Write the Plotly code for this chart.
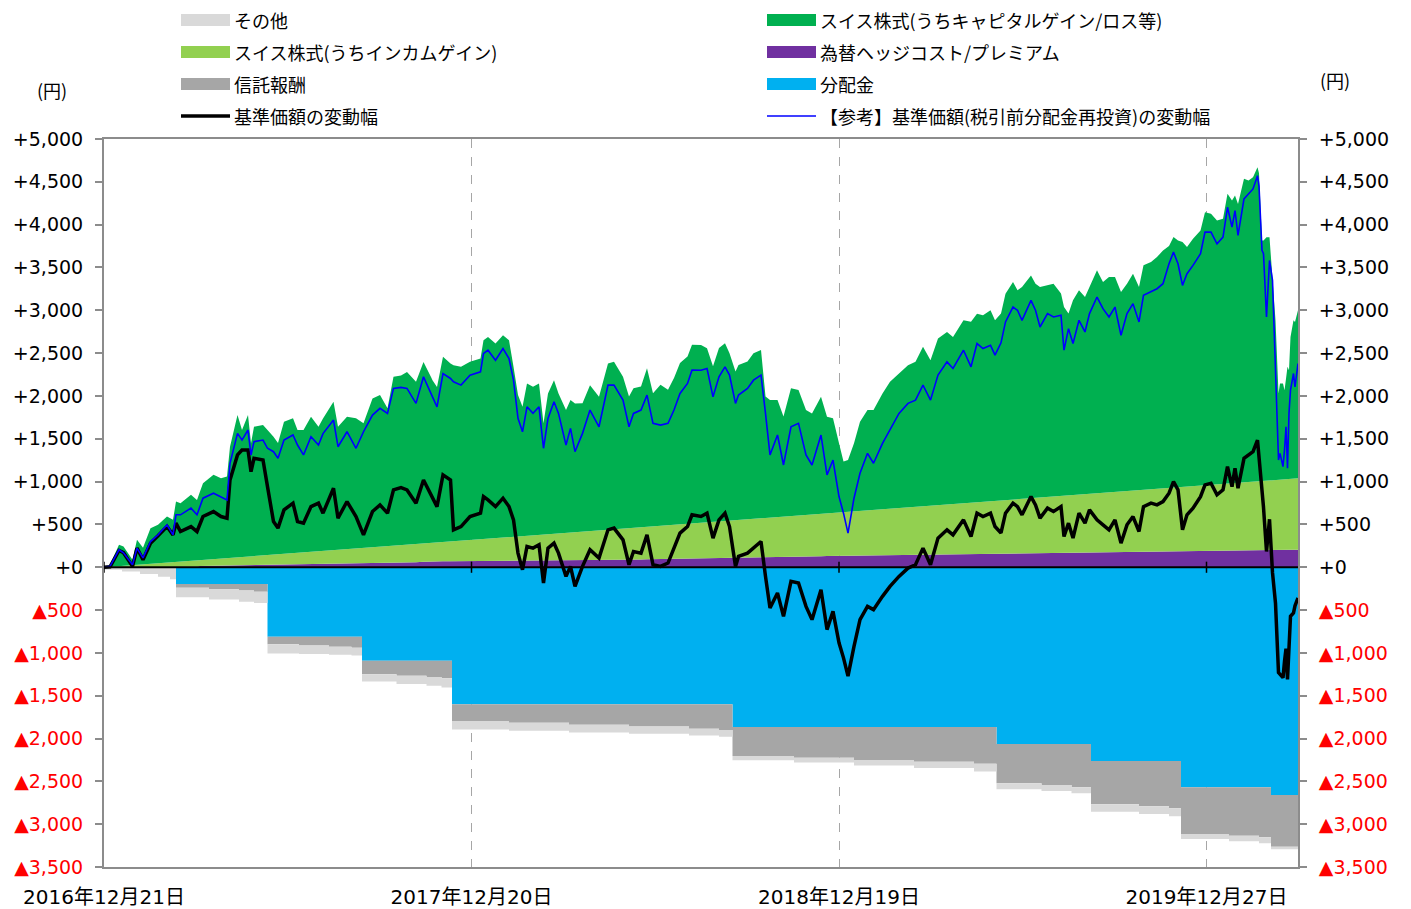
import plotly.graph_objects as go

# ---------------- tick labels ----------------
x_tick_days = [0, 245, 490, 735]
x_tick_labels = ["2016年12月21日", "2017年12月20日", "2018年12月19日", "2019年12月27日"]
y_tick_values = [5000, 4500, 4000, 3500, 3000, 2500, 2000, 1500, 1000, 500, 0,
                 -500, -1000, -1500, -2000, -2500, -3000, -3500]
y_tick_labels = ["+5,000", "+4,500", "+4,000", "+3,500", "+3,000", "+2,500", "+2,000",
                 "+1,500", "+1,000", "+500", "+0",
                 "<span style='color:#FF0000'>▲500</span>",
                 "<span style='color:#FF0000'>▲1,000</span>",
                 "<span style='color:#FF0000'>▲1,500</span>",
                 "<span style='color:#FF0000'>▲2,000</span>",
                 "<span style='color:#FF0000'>▲2,500</span>",
                 "<span style='color:#FF0000'>▲3,000</span>",
                 "<span style='color:#FF0000'>▲3,500</span>"]

# ---------------- daily series (trading-day index) ----------------
day = [0, 4, 10, 13, 19, 22, 26, 31, 36, 42,
       46, 48, 51, 58, 62, 66, 73, 78, 82, 84,
       89, 92, 96, 98, 100, 106, 109, 113, 116, 120,
       126, 129, 133, 138, 143, 146, 153, 156, 162, 168,
       173, 179, 184, 189, 193, 198, 202, 208, 213, 219,
       222, 226, 231, 233, 238, 244, 251, 253, 256, 261,
       266, 270, 273, 276, 279, 282, 286, 290, 293, 296,
       300, 303, 308, 311, 314, 319, 324, 330, 336, 340,
       346, 350, 353, 358, 362, 366, 371, 376, 380, 384,
       389, 392, 398, 402, 406, 410, 414, 417, 421, 423,
       429, 433, 438, 441, 444, 449, 453, 458, 463, 468,
       472, 478, 482, 486, 490, 493, 496, 500, 504, 509,
       513, 519, 524, 530, 536, 541, 546, 551, 556, 562,
       566, 573, 578, 582, 586, 591, 594, 598, 601, 606,
       609, 612, 618, 621, 624, 629, 633, 638, 640, 643,
       646, 650, 654, 657, 662, 666, 670, 674, 678, 682,
       686, 690, 693, 698, 702, 706, 710, 713, 716, 719,
       722, 726, 731, 734, 738, 742, 746, 749, 752, 754,
       756, 760, 763, 766, 769,
       770, 772, 773, 775, 777, 779, 781, 783, 784, 786,
       787, 788, 789, 790, 791, 793, 794, 796]

capital_gain = [0, 25, 250, 226, 63, 291, 194, 416, 449, 537,
                494, 705, 682, 770, 705, 895, 983, 938, 951, 1297,
                1661, 1482, 1653, 1320, 1510, 1522, 1460, 1377, 1299, 1543,
                1574, 1434, 1429, 1578, 1454, 1547, 1733, 1436, 1546, 1520,
                1455, 1738, 1770, 1609, 1972, 1982, 2017, 1894, 2120, 1899,
                1816, 2162, 2078, 2055, 2030, 2080, 2110, 2320, 2355, 2272,
                2363, 2299, 1984, 1651, 1509, 1778, 1733, 1768, 1298, 1643,
                1793, 1634, 1434, 1546, 1503, 1497, 1703, 1560, 1941, 1955,
                1772, 1534, 1628, 1640, 1849, 1551, 1642, 1578, 1709, 1878,
                1949, 2080, 2071, 2028, 1811, 2019, 2072, 1950, 1732, 1807,
                1839, 1930, 1963, 1415, 1372, 1365, 1166, 1491, 1464, 1225,
                1180, 1367, 1128, 1104, 808, 590, 605, 795, 1041, 1171,
                1166, 1352, 1481, 1571, 1660, 1692, 1861, 1698, 1945, 2014,
                1950, 2136, 2111, 2201, 2177, 2229, 2108, 2181, 2410, 2539,
                2439, 2472, 2601, 2500, 2457, 2471, 2484, 2362, 2204, 2122,
                2273, 2386, 2302, 2413, 2602, 2460, 2515, 2508, 2329, 2420,
                2532, 2371, 2620, 2653, 2705, 2778, 2824, 2924, 2881, 2858,
                2796, 2888, 2978, 3187, 3164, 3080, 3095, 3382, 3300, 3355,
                3255, 3543, 3519, 3553, 3667,
                3596, 2808, 2807, 2843, 2840, 2284, 1864, 1008, 1123, 1121,
                1041, 1172, 1311, 1270, 1657, 1849, 1828, 1962]

nav_change = [0, 5, 196, 170, 10, 223, 87, 281, 367, 475,
              378, 515, 417, 475, 417, 592, 650, 592, 573, 1019,
              1311, 1369, 1369, 1116, 1272, 1252, 941, 534, 457, 670,
              748, 534, 515, 708, 748, 631, 922, 573, 767, 592,
              378, 650, 728, 631, 903, 930, 903, 748, 1019, 825,
              708, 1078, 1019, 437, 475, 592, 631, 825, 786, 708,
              806, 708, 553, 165, -29, 242, 223, 262, -184, 223,
              281, 165, -107, 10, -224, 10, 204, 107, 437, 457,
              320, 29, 184, 165, 378, 29, 10, 49, 223, 398,
              475, 612, 592, 631, 340, 553, 631, 475, 10, 126,
              165, 223, 300, -107, -475, -300, -573, -165, -184, -457,
              -612, -262, -728, -515, -883, -1058, -1272, -923, -612, -457,
              -495, -340, -224, -107, -10, 29, 223, 29, 340, 437,
              378, 553, 359, 631, 592, 631, 475, 400, 631, 748,
              708, 612, 825, 728, 573, 690, 650, 708, 359, 515,
              340, 631, 515, 670, 553, 495, 437, 553, 281, 495,
              592, 417, 708, 748, 728, 767, 864, 1000, 903, 437,
              612, 690, 825, 961, 981, 845, 903, 1174, 941, 1155,
              922, 1272, 1311, 1349, 1485,
              1300, 850, 700, 184, 560, -64, -420, -1230, -1250, -1290,
              -1100, -950, -1311, -845, -573, -534, -450, -359]

nav_change_reinvested = [0, 10, 204, 168, 29, 223, 110, 300, 378, 495,
                         378, 612, 612, 690, 612, 806, 864, 825, 786, 1214,
                         1563, 1485, 1602, 1311, 1466, 1485, 1389, 1349, 1272, 1485,
                         1544, 1427, 1311, 1524, 1427, 1560, 1718, 1407, 1582, 1389,
                         1582, 1777, 1855, 1796, 2088, 2100, 2088, 1913, 2223, 1990,
                         1873, 2262, 2204, 2165, 2126, 2243, 2281, 2495, 2534, 2417,
                         2553, 2437, 2184, 1738, 1582, 1873, 1796, 1873, 1389, 1738,
                         1932, 1796, 1427, 1621, 1349, 1563, 1835, 1640, 2126, 2126,
                         1951, 1640, 1796, 1835, 2010, 1680, 1660, 1680, 1835, 2029,
                         2146, 2301, 2300, 2321, 1990, 2223, 2340, 2243, 1913, 2010,
                         2088, 2184, 2243, 1796, 1311, 1544, 1194, 1640, 1680, 1311,
                         1194, 1544, 1078, 1252, 825, 631, 398, 806, 1097, 1330,
                         1214, 1447, 1602, 1796, 1913, 1951, 2126, 1951, 2243, 2398,
                         2321, 2534, 2340, 2612, 2553, 2592, 2476, 2620, 2864, 3038,
                         3000, 2883, 3116, 3000, 2805, 2961, 2922, 2942, 2534, 2786,
                         2612, 2883, 2747, 2961, 3155, 3019, 2922, 3038, 2709, 2961,
                         3077, 2864, 3174, 3213, 3252, 3310, 3543, 3679, 3543, 3291,
                         3427, 3524, 3660, 3913, 3913, 3777, 3854, 4203, 3971, 4165,
                         3874, 4301, 4359, 4417, 4572,
                         4450, 3699, 3660, 2922, 3582, 3349, 2301, 1252, 1330, 1174,
                         1369, 1640, 1155, 1800, 2068, 2262, 2106, 2379]

# income gain and hedge cost (slowly accumulating)
ih_day = [0, 61, 64, 131, 198, 218, 331, 398, 464, 571, 664, 751, 796]
hedge_cost = [0, 0, 15, 35, 50, 68, 80, 107, 126, 150, 165, 190, 205]
income_gain = [0, 79, 69, 136, 208, 216, 352, 418, 480, 595, 702, 790, 833]

# negative components (step functions between distribution dates)
neg_day = [0, 12, 24, 36, 44,
           48, 70, 90, 100,
           109, 130, 150, 165,
           172, 195, 215, 225,
           232, 270, 310, 350, 390, 410,
           419, 460, 500, 540, 580,
           595, 625, 645,
           658, 690, 710,
           718, 750, 770,
           778, 796]
distribution = [0, 0, 0, 0, 0,
                -197, -197, -197, -197,
                -813, -813, -813, -813,
                -1093, -1093, -1093, -1093,
                -1600, -1600, -1600, -1600, -1600, -1600,
                -1865, -1865, -1865, -1865, -1865,
                -2063, -2063, -2063,
                -2262, -2262, -2262,
                -2569, -2569, -2569,
                -2660, -2660]
trust_fee = [0, 0, 0, 0, 0,
             -42, -60, -75, -88,
             -85, -100, -115, -128,
             -156, -175, -190, -203,
             -195, -215, -240, -260, -285, -300,
             -339, -360, -385, -405, -430,
             -459, -480, -506,
             -505, -530, -551,
             -547, -565, -583,
             -604, -610]
other = [-30, -50, -80, -110, -140,
         -110, -120, -130, -134,
         -110, -100, -95, -90,
         -85, -95, -100, -108,
         -100, -95, -90, -85, -80, -80,
         -50, -55, -65, -75, -90,
         -70, -70, -70,
         -87, -90, -93,
         -58, -65, -70,
         -30, -30]

legend_names = ["その他", "スイス株式(うちキャピタルゲイン/ロス等)",
                "スイス株式(うちインカムゲイン)", "為替ヘッジコスト/プレミアム",
                "信託報酬", "分配金",
                "基準価額の変動幅", "【参考】基準価額(税引前分配金再投資)の変動幅"]
legend_colors = ["#D9D9D9", "#00B050", "#92D050", "#7030A0",
                 "#A6A6A6", "#00B0F0", "#000000", "#0000FF"]
legend_kind = ["box", "box", "box", "box", "box", "box", "thick", "thin"]

C_OTHER, C_CAP, C_INC, C_HEDGE, C_FEE, C_DIST, C_NAV, C_REF = legend_colors

fig = go.Figure()

# negative stack
fig.add_trace(go.Scatter(x=neg_day, y=distribution, stackgroup="neg", mode="lines",
                         line=dict(width=0, shape="hv"), fillcolor=C_DIST, name="分配金",
                         showlegend=False, hoverinfo="skip"))
fig.add_trace(go.Scatter(x=neg_day, y=trust_fee, stackgroup="neg", mode="lines",
                         line=dict(width=0, shape="hv"), fillcolor=C_FEE, name="信託報酬",
                         showlegend=False, hoverinfo="skip"))
fig.add_trace(go.Scatter(x=neg_day, y=other, stackgroup="neg", mode="lines",
                         line=dict(width=0, shape="hv"), fillcolor=C_OTHER, name="その他",
                         showlegend=False, hoverinfo="skip"))

# positive stack
fig.add_trace(go.Scatter(x=ih_day, y=hedge_cost, stackgroup="pos", stackgaps="interpolate",
                         mode="lines", line=dict(width=0), fillcolor=C_HEDGE,
                         name="為替ヘッジコスト/プレミアム", showlegend=False, hoverinfo="skip"))
fig.add_trace(go.Scatter(x=ih_day, y=income_gain, stackgroup="pos", mode="lines",
                         line=dict(width=0), fillcolor=C_INC,
                         name="スイス株式(うちインカムゲイン)", showlegend=False, hoverinfo="skip"))
fig.add_trace(go.Scatter(x=day, y=capital_gain, stackgroup="pos", mode="lines",
                         line=dict(width=0), fillcolor=C_CAP,
                         name="スイス株式(うちキャピタルゲイン/ロス等)", showlegend=False,
                         hoverinfo="skip"))

# lines
fig.add_trace(go.Scatter(x=day, y=nav_change, mode="lines",
                         line=dict(color=C_NAV, width=3.5), name="基準価額の変動幅",
                         showlegend=False))
# reference line is plotted against the (identical) right-hand axis
fig.add_trace(go.Scatter(x=day, y=nav_change_reinvested, mode="lines", yaxis="y2",
                         line=dict(color=C_REF, width=1.6),
                         name="【参考】基準価額(税引前分配金再投資)の変動幅", showlegend=False))

# ---------------- layout ----------------
# page body has an 8px margin; the plot area should sit at page x 104..1298, y 139..867
W, H = 1411, 909
BODY = 8
PLOT_L, PLOT_R, PLOT_T, PLOT_B = 104, 1298, 139, 867
ML = PLOT_L - BODY
MT = PLOT_T - BODY
MR = W - (PLOT_R - BODY)
MB = H - (PLOT_B - BODY)
PW, PH = PLOT_R - PLOT_L, PLOT_B - PLOT_T


def px_x(px):
    return (px - PLOT_L) / PW


def px_y(py):
    return (PLOT_B - py) / PH


num_font = "DejaVu Sans, Noto Sans CJK JP, sans-serif"
jp_font = "Noto Sans CJK JP, sans-serif"
axis_gray = "#8C8C8C"

shapes = []
annotations = []

# zero line and small ticks on it
shapes.append(dict(type="line", xref="paper", yref="y", x0=0, x1=1, y0=0, y1=0,
                   line=dict(color="#000000", width=2), layer="above"))
for tv in x_tick_days:
    shapes.append(dict(type="line", xref="x", yref="y", x0=tv, x1=tv, y0=-65, y1=65,
                       line=dict(color="#000000", width=1.5), layer="above"))

# manual two-column legend
col_sym_x = [181, 767]
col_txt_x = [232, 818]
row_y = [20, 52, 84, 116]
for i in range(len(legend_names)):
    col = i % 2
    row = i // 2
    cy = row_y[row]
    x0, x1 = col_sym_x[col], col_sym_x[col] + 49
    kind = legend_kind[i]
    if kind == "box":
        shapes.append(dict(type="rect", xref="paper", yref="paper",
                           x0=px_x(x0), x1=px_x(x1), y0=px_y(cy + 6), y1=px_y(cy - 6),
                           line=dict(width=0), fillcolor=legend_colors[i]))
    else:
        shapes.append(dict(type="line", xref="paper", yref="paper",
                           x0=px_x(x0), x1=px_x(x1), y0=px_y(cy), y1=px_y(cy),
                           line=dict(color=legend_colors[i],
                                     width=3.5 if kind == "thick" else 1.5)))
    annotations.append(dict(text=legend_names[i], xref="paper", yref="paper",
                            x=px_x(col_txt_x[col]), y=px_y(cy), xanchor="left",
                            yanchor="middle", showarrow=False,
                            font=dict(family=jp_font, size=18, color="#000000")))

annotations.append(dict(text="(円)", xref="paper", yref="paper", x=px_x(52), y=px_y(90),
                        xanchor="center", yanchor="middle", showarrow=False,
                        font=dict(family=jp_font, size=18, color="#000000")))
annotations.append(dict(text="(円)", xref="paper", yref="paper", x=px_x(1335), y=px_y(80),
                        xanchor="center", yanchor="middle", showarrow=False,
                        font=dict(family=jp_font, size=18, color="#000000")))

fig.update_layout(
    width=W, height=H,
    margin=dict(l=ML, r=MR, t=MT, b=MB, pad=0, autoexpand=False),
    paper_bgcolor="#FFFFFF", plot_bgcolor="#FFFFFF",
    showlegend=False,
    shapes=shapes, annotations=annotations,
    xaxis=dict(range=[0, 796], tickmode="array", tickvals=x_tick_days, ticktext=x_tick_labels,
               showgrid=True, gridcolor="#A6A6A6", griddash="dash", gridwidth=1,
               showline=True, linecolor=axis_gray, linewidth=2, mirror=True,
               ticks="", zeroline=False, ticklabelstandoff=11, automargin=False,
               tickfont=dict(family=num_font, size=20, color="#000000")),
    yaxis=dict(range=[-3500, 5000], tickmode="array", tickvals=y_tick_values,
               ticktext=y_tick_labels, showgrid=False, zeroline=False,
               showline=True, linecolor=axis_gray, linewidth=2,
               ticks="outside", ticklen=7, tickwidth=1.5, tickcolor=axis_gray,
               ticklabelstandoff=8, automargin=False,
               tickfont=dict(family=num_font, size=19, color="#000000")),
    yaxis2=dict(range=[-3500, 5000], overlaying="y", side="right", tickmode="array",
                tickvals=y_tick_values, ticktext=y_tick_labels, showgrid=False,
                zeroline=False, showline=True, linecolor=axis_gray, linewidth=2,
                ticks="outside", ticklen=7, tickwidth=1.5, tickcolor=axis_gray,
                ticklabelstandoff=8, automargin=False,
                tickfont=dict(family=num_font, size=19, color="#000000")),
)

fig.write_html("out.html", config={"displayModeBar": False})
